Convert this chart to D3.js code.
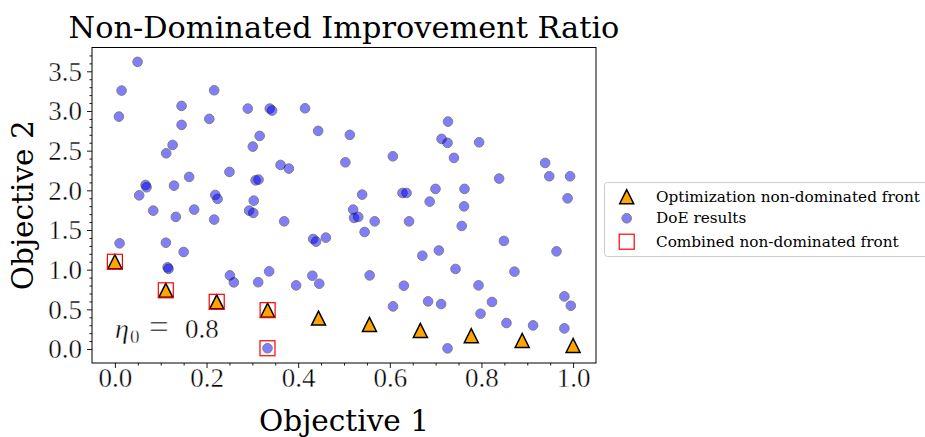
<!DOCTYPE html>
<html>
<head>
<meta charset="utf-8">
<script src="https://cdn.jsdelivr.net/npm/d3@7"></script>
<style>
  body { margin: 0; background: #fff; }
  svg { display: block; }
</style>
</head>
<body>
<svg id="chart" width="925" height="437"></svg>
<script>
// Design-of-experiments samples (objective 1, objective 2)
const doeX = [0.0495, 0.0146, 0.2167, 0.1455, 0.0087, 0.290, 0.338, 0.343, 0.206, 0.1455,
              0.316, 0.301, 0.126, 0.112, 0.250, 0.162, 0.067, 0.069, 0.129, 0.053,
              0.219, 0.224, 0.307, 0.3135, 0.303, 0.0837, 0.133, 0.173, 0.2167, 0.293,
              0.302, 0.0102, 0.1113, 0.150, 0.115, 0.117, 0.333, 0.3695, 0.4327, 0.439,
              0.4604, 0.520, 0.522, 0.531, 0.545, 0.567, 0.642, 0.687, 0.671, 0.707,
              0.3367, 0.3127, 0.251, 0.2596, 0.3955, 0.431, 0.446, 0.556, 0.6306, 0.607,
              0.6836, 0.415, 0.4436, 0.5127, 0.727, 0.713, 0.726, 0.795, 0.740, 0.503,
              0.6066, 0.3615, 0.3797, 0.5396, 0.6277, 0.6365, 0.6997, 0.8386, 0.939, 0.948,
              0.9935, 0.988, 0.763, 0.762, 0.757, 0.849, 0.9638, 0.7434, 0.872, 0.7936,
              0.712, 0.823, 0.798, 0.8546, 0.9127, 0.981, 0.995, 0.981, 0.726];
const doeY = [3.619, 3.257, 3.261, 3.064, 2.929, 3.030, 3.030, 3.005, 2.900, 2.825,
              2.686, 2.551, 2.572, 2.467, 2.232, 2.169, 2.068, 2.038, 2.059, 1.937,
              1.942, 1.892, 2.126, 2.135, 1.870, 1.744, 1.665, 1.757, 1.631, 1.744,
              1.715, 1.332, 1.340, 1.223, 1.030, 1.010, 0.010, 1.609, 1.387, 1.353,
              1.404, 1.757, 1.652, 1.665, 1.475, 1.609, 1.609, 1.858, 1.176, 1.242,
              0.979, 0.842, 0.928, 0.840, 0.802, 0.924, 0.823, 0.928, 0.798, 0.537,
              0.600, 3.034, 2.749, 2.699, 2.866, 2.648, 2.598, 2.605, 2.409, 2.353,
              2.429, 2.320, 2.274, 1.946, 1.967, 1.967, 2.018, 2.148, 2.345, 2.177,
              2.177, 1.899, 2.018, 1.798, 1.551, 1.362, 1.231, 1.009, 0.975, 0.802,
              0.567, 0.593, 0.445, 0.328, 0.298, 0.663, 0.546, 0.260, 0.008];

// Optimization non-dominated front
const frontX = [0, 0.1111, 0.2222, 0.3333, 0.4444, 0.5556, 0.6667, 0.7778, 0.8889, 1.0];
const frontY = [1.10, 0.74, 0.595, 0.49, 0.39, 0.31, 0.235, 0.168, 0.108, 0.045];

// Combined non-dominated front
const combinedX = [0, 0.1111, 0.2222, 0.3333, 0.333];
const combinedY = [1.10, 0.74, 0.595, 0.49, 0.010];

const xTicks = [0, 0.2, 0.4, 0.6, 0.8, 1.0];
const yTicks = [0, 0.5, 1.0, 1.5, 2.0, 2.5, 3.0, 3.5];

const titleText = "Non-Dominated Improvement Ratio";
const xLabel = "Objective 1";
const yLabel = "Objective 2";
const legendLabels = ["Optimization non-dominated front", "DoE results", "Combined non-dominated front"];
const etaValue = "0.8";

const svg = d3.select("#chart");
const plot = { left: 92, right: 596, top: 47.5, bottom: 363 };

const x = d3.scaleLinear().domain([-0.05, 1.05]).range([plot.left, plot.right]);
const y = d3.scaleLinear().domain([-0.176, 3.80]).range([plot.bottom, plot.top]);

const tickFont = "'Liberation Serif', 'DejaVu Serif', serif";
const textFont = "'DejaVu Serif', serif";

// thin the glyph strokes of the math-style labels a little
function lightGlyphs(sel) {
  sel.attr("stroke", "#fff").attr("stroke-width", 0.4).attr("paint-order", "fill");
}

// Minor ticks
const xMinor = d3.range(0, 1.0001, 0.05).filter(v => !xTicks.some(t => Math.abs(t - v) < 1e-6));
const yMinor = d3.range(0, 3.75, 0.1).filter(v => !yTicks.some(t => Math.abs(t - v) < 1e-6));

svg.append("g")
  .attr("transform", `translate(0,${plot.bottom})`)
  .call(d3.axisBottom(x).tickValues(xMinor).tickSize(2.5).tickFormat(""))
  .call(g => g.select(".domain").remove());
svg.append("g")
  .attr("transform", `translate(${plot.left},0)`)
  .call(d3.axisLeft(y).tickValues(yMinor).tickSize(2.5).tickFormat(""))
  .call(g => g.select(".domain").remove());

const xAxis = svg.append("g")
  .attr("transform", `translate(0,${plot.bottom})`)
  .call(d3.axisBottom(x).tickValues(xTicks).tickSize(5).tickPadding(5).tickFormat(d3.format(".1f")))
  .call(g => g.select(".domain").remove());
xAxis.selectAll("text").attr("font-family", tickFont).attr("font-size", 27).attr("fill", "#000")
  .attr("dy", null).attr("y", 23.5).call(lightGlyphs);

const yAxis = svg.append("g")
  .attr("transform", `translate(${plot.left},0)`)
  .call(d3.axisLeft(y).tickValues(yTicks).tickSize(5).tickPadding(5).tickFormat(d3.format(".1f")))
  .call(g => g.select(".domain").remove());
yAxis.selectAll("text").attr("font-family", tickFont).attr("font-size", 27).attr("fill", "#000")
  .attr("x", -10).attr("dy", "0.33em").call(lightGlyphs);

svg.selectAll(".tick line").attr("stroke", "#000").attr("stroke-width", 0.9);

// Frame
svg.append("rect")
  .attr("x", plot.left).attr("y", plot.top)
  .attr("width", plot.right - plot.left).attr("height", plot.bottom - plot.top)
  .attr("fill", "none").attr("stroke", "#000").attr("stroke-width", 1);

// DoE points
const doe = doeX.map((v, i) => ({ x: v, y: doeY[i] }));
svg.append("g").selectAll("circle").data(doe).join("circle")
  .attr("cx", d => x(d.x)).attr("cy", d => y(d.y)).attr("r", 4.8)
  .attr("fill", "blue").attr("stroke", "black").attr("stroke-width", 1)
  .attr("opacity", 0.5);

// Optimization front triangles
const tri = 7;
const triPath = `M0,${-tri}L${-tri},${tri}L${tri},${tri}Z`;
const front = frontX.map((v, i) => ({ x: v, y: frontY[i] }));
svg.append("g").selectAll("path").data(front).join("path")
  .attr("d", triPath)
  .attr("transform", d => `translate(${x(d.x)},${y(d.y)})`)
  .attr("fill", "orange").attr("stroke", "black").attr("stroke-width", 1.5)
  .attr("stroke-linejoin", "miter");

// Combined front squares
const sq = 15;
const combined = combinedX.map((v, i) => ({ x: v, y: combinedY[i] }));
svg.append("g").selectAll("rect").data(combined).join("rect")
  .attr("x", d => x(d.x) - sq / 2).attr("y", d => y(d.y) - sq / 2)
  .attr("width", sq).attr("height", sq)
  .attr("fill", "none").attr("stroke", "red").attr("stroke-width", 1.2);

// Annotation: eta_0 = value
const etaG = svg.append("g")
  .attr("font-family", tickFont).attr("fill", "#000");
etaG.append("text").attr("x", 115).attr("y", 338).attr("font-size", 28)
  .attr("font-style", "italic").text("η").call(lightGlyphs);
etaG.append("text").attr("x", 130).attr("y", 343).attr("font-size", 19)
  .text("0").call(lightGlyphs);
etaG.append("text").attr("x", 149).attr("y", 339).attr("font-size", 35)
  .text("=").call(lightGlyphs);
etaG.append("text").attr("x", 185).attr("y", 338).attr("font-size", 27)
  .text(etaValue).call(lightGlyphs);

// Title and axis labels
function fitWidth(sel, target) {
  const w = sel.node().getComputedTextLength();
  const fs = parseFloat(sel.attr("font-size"));
  if (w > 0) sel.attr("font-size", fs * target / w);
}

const title = svg.append("text")
  .attr("x", (plot.left + plot.right) / 2).attr("y", 38)
  .attr("text-anchor", "middle")
  .attr("font-family", textFont).attr("font-size", 28).attr("fill", "#000")
  .text(titleText);
fitWidth(title, 551);

const xl = svg.append("text")
  .attr("x", (plot.left + plot.right) / 2).attr("y", 431)
  .attr("text-anchor", "middle")
  .attr("font-family", textFont).attr("font-size", 28).attr("fill", "#000")
  .text(xLabel);
fitWidth(xl, 170);

const yl = svg.append("text")
  .attr("transform", `translate(32.5,${(plot.top + plot.bottom) / 2}) rotate(-90)`)
  .attr("text-anchor", "middle")
  .attr("font-family", textFont).attr("font-size", 28).attr("fill", "#000")
  .text(yLabel);
fitWidth(yl, 170);

// Legend
const lg = svg.append("g");
lg.append("rect")
  .attr("x", 604.5).attr("y", 182.5).attr("width", 340).attr("height", 74)
  .attr("rx", 3).attr("fill", "#fff").attr("fill-opacity", 0.8)
  .attr("stroke", "#ccc").attr("stroke-width", 1);

const rowY = [196.7, 218.3, 241.7];
const mx = 626.7;
lg.append("path").attr("d", triPath).attr("transform", `translate(${mx},${rowY[0]})`)
  .attr("fill", "orange").attr("stroke", "black").attr("stroke-width", 1.5);
lg.append("circle").attr("cx", mx).attr("cy", rowY[1]).attr("r", 4.8)
  .attr("fill", "blue").attr("stroke", "black").attr("opacity", 0.5);
lg.append("rect").attr("x", mx - sq / 2).attr("y", rowY[2] - sq / 2)
  .attr("width", sq).attr("height", sq)
  .attr("fill", "none").attr("stroke", "red").attr("stroke-width", 1.2);

const lt = lg.selectAll("text.lab").data(legendLabels).join("text")
  .attr("class", "lab")
  .attr("x", 656).attr("y", (d, i) => rowY[i] + 5)
  .attr("font-family", textFont).attr("font-size", 14).attr("fill", "#000")
  .text(d => d);
const first = lt.filter((d, i) => i === 0);
const w0 = first.node().getComputedTextLength();
lt.attr("font-size", 14 * 264 / w0);
</script>
</body>
</html>
